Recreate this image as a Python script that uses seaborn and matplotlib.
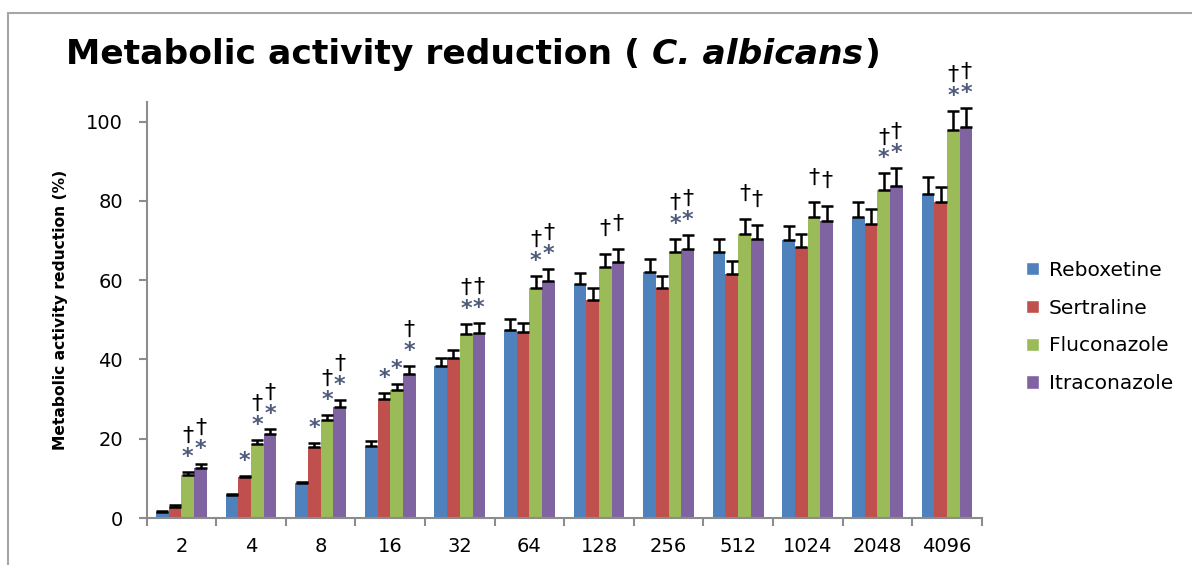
import numpy as np
import pandas as pd
import matplotlib
matplotlib.use("Agg")
import matplotlib.pyplot as plt
from matplotlib.patches import Rectangle
import seaborn as sns

# Concentrations (x categories) and drugs (series)
doses = ["2", "4", "8", "16", "32", "64", "128", "256", "512", "1024", "2048", "4096"]
drugs = ["Reboxetine", "Sertraline", "Fluconazole", "Itraconazole"]

# Mean metabolic activity reduction (%)
reboxetine = [1.5, 5.7, 8.8, 18.2, 38.3, 47.5, 58.9, 62.0, 67.1, 70.0, 75.9, 81.7]
sertraline = [2.9, 10.3, 17.8, 30.0, 40.3, 46.8, 55.1, 58.1, 61.6, 68.3, 74.2, 79.6]
fluconazole = [10.8, 18.6, 24.7, 32.2, 46.5, 58.0, 63.3, 67.1, 71.7, 75.9, 82.7, 97.8]
itraconazole = [12.7, 21.3, 28.0, 36.2, 46.7, 59.7, 64.5, 67.8, 70.3, 74.8, 83.8, 98.6]

# Standard deviations (upper error bars)
reboxetine_sd = [0.3, 0.3, 0.4, 1.1, 2.0, 2.6, 3.0, 3.2, 3.3, 3.6, 3.7, 4.2]
sertraline_sd = [0.3, 0.4, 1.0, 1.6, 2.1, 2.5, 2.8, 2.9, 3.1, 3.4, 3.8, 4.0]
fluconazole_sd = [0.8, 1.0, 1.4, 1.7, 2.5, 3.1, 3.2, 3.3, 3.8, 3.7, 4.2, 4.9]
itraconazole_sd = [0.9, 1.1, 1.7, 2.1, 2.5, 3.1, 3.4, 3.5, 3.6, 4.0, 4.4, 4.9]

# Significance marks: * and dagger per drug and concentration
reboxetine_star = [0] * 12
sertraline_star = [0, 1, 1, 1, 0, 0, 0, 0, 0, 0, 0, 0]
fluconazole_star = [1, 1, 1, 1, 1, 1, 0, 1, 0, 0, 1, 1]
itraconazole_star = [1, 1, 1, 1, 1, 1, 0, 1, 0, 0, 1, 1]
reboxetine_dagger = [0] * 12
sertraline_dagger = [0] * 12
fluconazole_dagger = [1, 1, 1, 0, 1, 1, 1, 1, 1, 1, 1, 1]
itraconazole_dagger = [1] * 12

colors = ["#4F81BD", "#C0504D", "#9BBB59", "#8064A2"]
star_color = "#4d5a7a"
axis_gray = "#8c8c8c"

means = [reboxetine, sertraline, fluconazole, itraconazole]
sds = [reboxetine_sd, sertraline_sd, fluconazole_sd, itraconazole_sd]
stars = [reboxetine_star, sertraline_star, fluconazole_star, itraconazole_star]
daggers = [reboxetine_dagger, sertraline_dagger, fluconazole_dagger, itraconazole_dagger]

df = pd.DataFrame({
    "dose": np.tile(doses, len(drugs)),
    "drug": np.repeat(drugs, len(doses)),
    "value": np.concatenate(means),
})

sns.set_style("white")
plt.rcParams["font.family"] = ["DejaVu Sans"]
plt.rcParams["text.color"] = "black"

W, H = 1192, 565
fig = plt.figure(figsize=(W / 100, H / 100), dpi=100)
ax = fig.add_axes([146.7 / W, 1 - 518 / H, 835 / W, (518 - 101.7) / H])

sns.barplot(data=df, x="dose", y="value", hue="drug", order=doses, hue_order=drugs,
            palette=colors, width=0.73, errorbar=None, saturation=1, linewidth=0,
            ax=ax)

# Upper error bars and significance marks
for cont, sd, st, dg in zip(ax.containers, sds, stars, daggers):
    xs = np.array([p.get_x() + p.get_width() / 2 for p in cont])
    hs = np.array([p.get_height() for p in cont])
    sd = np.array(sd)
    ax.errorbar(xs, hs, yerr=[np.zeros_like(sd), sd], fmt="none", ecolor="black",
                elinewidth=1.8, capsize=4.2, capthick=1.8, zorder=3)
    for x, top, s, d in zip(xs, hs + sd, st, dg):
        if s:
            ax.annotate("*", (x, top), xytext=(0, 9), textcoords="offset pixels",
                        ha="center", va="baseline", fontsize=16, fontweight="bold",
                        color=star_color)
        if d:
            off = 30 if s else 19
            ax.annotate("\u2020", (x, top), xytext=(0, off), textcoords="offset pixels",
                        ha="center", va="baseline", fontsize=16, color="black")

ax.set_ylim(0, 105)
ax.set_xlim(-0.5, len(doses) - 0.5)
ax.set_yticks([0, 20, 40, 60, 80, 100])
ax.set_xlabel("")
ax.set_ylabel("")
ax.legend_.remove()

for side in ["top", "right"]:
    ax.spines[side].set_visible(False)
for side in ["left", "bottom"]:
    ax.spines[side].set_color(axis_gray)
    ax.spines[side].set_linewidth(1.5)

ax.tick_params(axis="y", which="major", left=True, length=6, width=1.5, color=axis_gray,
               pad=11, labelsize=14, labelcolor="black")
ax.tick_params(axis="x", which="major", bottom=False, length=0, pad=14, labelsize=14,
               labelcolor="black")
ax.set_xticks(np.arange(-0.5, len(doses)), minor=True)
ax.tick_params(axis="x", which="minor", bottom=True, length=6, width=1.5, color=axis_gray)

# Axis title
fig.text(60.7 / W, 1 - 310 / H, "Metabolic activity reduction (%)", rotation=90,
         ha="center", va="center", fontsize=11.2, fontweight="bold", color="black")

# Chart title with italic species name
renderer = fig.canvas.get_renderer()
tsize = 24.8
yb = 1 - 64 / H
t1 = fig.text(66 / W, yb, "Metabolic activity reduction (", fontsize=tsize,
              fontweight="bold", va="baseline", color="black")
x1 = t1.get_window_extent(renderer).x1 + 12
t2 = fig.text(x1 / W, yb, "C. albicans", fontsize=tsize, fontweight="bold",
              fontstyle="italic", va="baseline", color="black")
x2 = t2.get_window_extent(renderer).x1 + 1
fig.text(x2 / W, yb, ")", fontsize=tsize, fontweight="bold", va="baseline", color="black")

# Legend
handles = [Rectangle((0, 0), 1, 1, facecolor=c) for c in colors]
leg = fig.legend(handles, drugs, loc="center left", bbox_to_anchor=(1008 / W, 1 - 327 / H),
                 frameon=False, fontsize=14.5, handlelength=0.62, handleheight=0.62,
                 handletextpad=0.5, labelspacing=0.93)
for t in leg.get_texts():
    t.set_color("black")

# Chart area border
fig.patches.append(Rectangle((8 / W, -0.2), 1.5, 1 - 12.5 / H + 0.2,
                             transform=fig.transFigure, fill=False,
                             edgecolor="#a6a6a6", linewidth=1.5))

fig.savefig("out.png", dpi=100)
